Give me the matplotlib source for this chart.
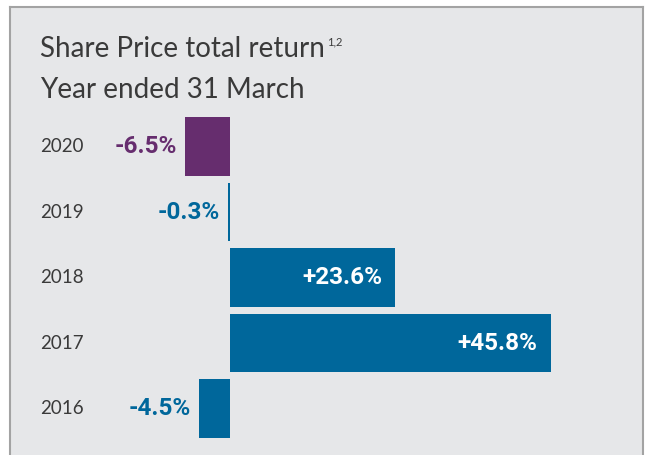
import matplotlib
matplotlib.use("Agg")
import matplotlib.pyplot as plt
from matplotlib.transforms import blended_transform_factory, offset_copy

years = ["2020", "2019", "2018", "2017", "2016"]
values = [-6.5, -0.3, 23.6, 45.8, -4.5]
labels = ["-6.5%", "-0.3%", "+23.6%", "+45.8%", "-4.5%"]
colors = ["#662D6E", "#00679B", "#00679B", "#00679B", "#00679B"]

W, H = 648, 455
fig = plt.figure(figsize=(W / 100, H / 100), dpi=100)
fig.patch.set_facecolor("white")

# panel axes: left 10px, right 643px, top 7px, extends below image bottom
ax = fig.add_axes([10 / W, 0, 633 / W, (H - 7) / H])
ax.set_facecolor("#E6E7E9")
for s in ["top", "left", "right"]:
    ax.spines[s].set_color("#A3A3A3")
    ax.spines[s].set_linewidth(1.5)
ax.spines["bottom"].set_visible(False)
ax.set_xticks([])
ax.set_yticks([])

scale = 7.0  # px per percentage point
ax.set_xlim(-220 / scale, 413 / scale)
ax.set_ylim(4.71, -2.13)

ypos = list(range(len(years)))
ax.barh(ypos, values, height=0.9, color=colors, left=0)

txtcol = "#3A3A3A"
tr = blended_transform_factory(fig.transFigure, ax.transData)
for y, yr, v, lab, c in zip(ypos, years, values, labels, colors):
    fig.text(40 / W, y, yr, transform=tr, ha="left", va="center",
             fontsize=13.5, family="Lato", weight="normal", color=txtcol)
    if v < 0:
        t = offset_copy(ax.transData, fig=fig, x=-8, y=0, units="dots")
        ax.text(v, y, lab, transform=t, ha="right", va="center",
                fontsize=17.5, family="Roboto", weight="bold", color=c)
    else:
        t = offset_copy(ax.transData, fig=fig, x=-13, y=0, units="dots")
        ax.text(v, y, lab, transform=t, ha="right", va="center",
                fontsize=17.5, family="Roboto", weight="bold", color="white")

title = fig.text(40 / W, 1 - 57 / H, "Share Price total return", ha="left",
                 va="baseline", fontsize=20, family="Lato", weight="normal",
                 color=txtcol)
fig.text(40 / W, 1 - 98 / H, "Year ended 31 March", ha="left",
         va="baseline", fontsize=20, family="Lato", weight="normal",
         color=txtcol)
fig.canvas.draw()
bb = title.get_window_extent()
fig.text(bb.x1 / W + 2 / W, 1 - 45 / H, "1,2", ha="left", va="baseline",
         fontsize=8, family="Lato", weight="normal", color=txtcol)

fig.savefig("out.png", dpi=100)
